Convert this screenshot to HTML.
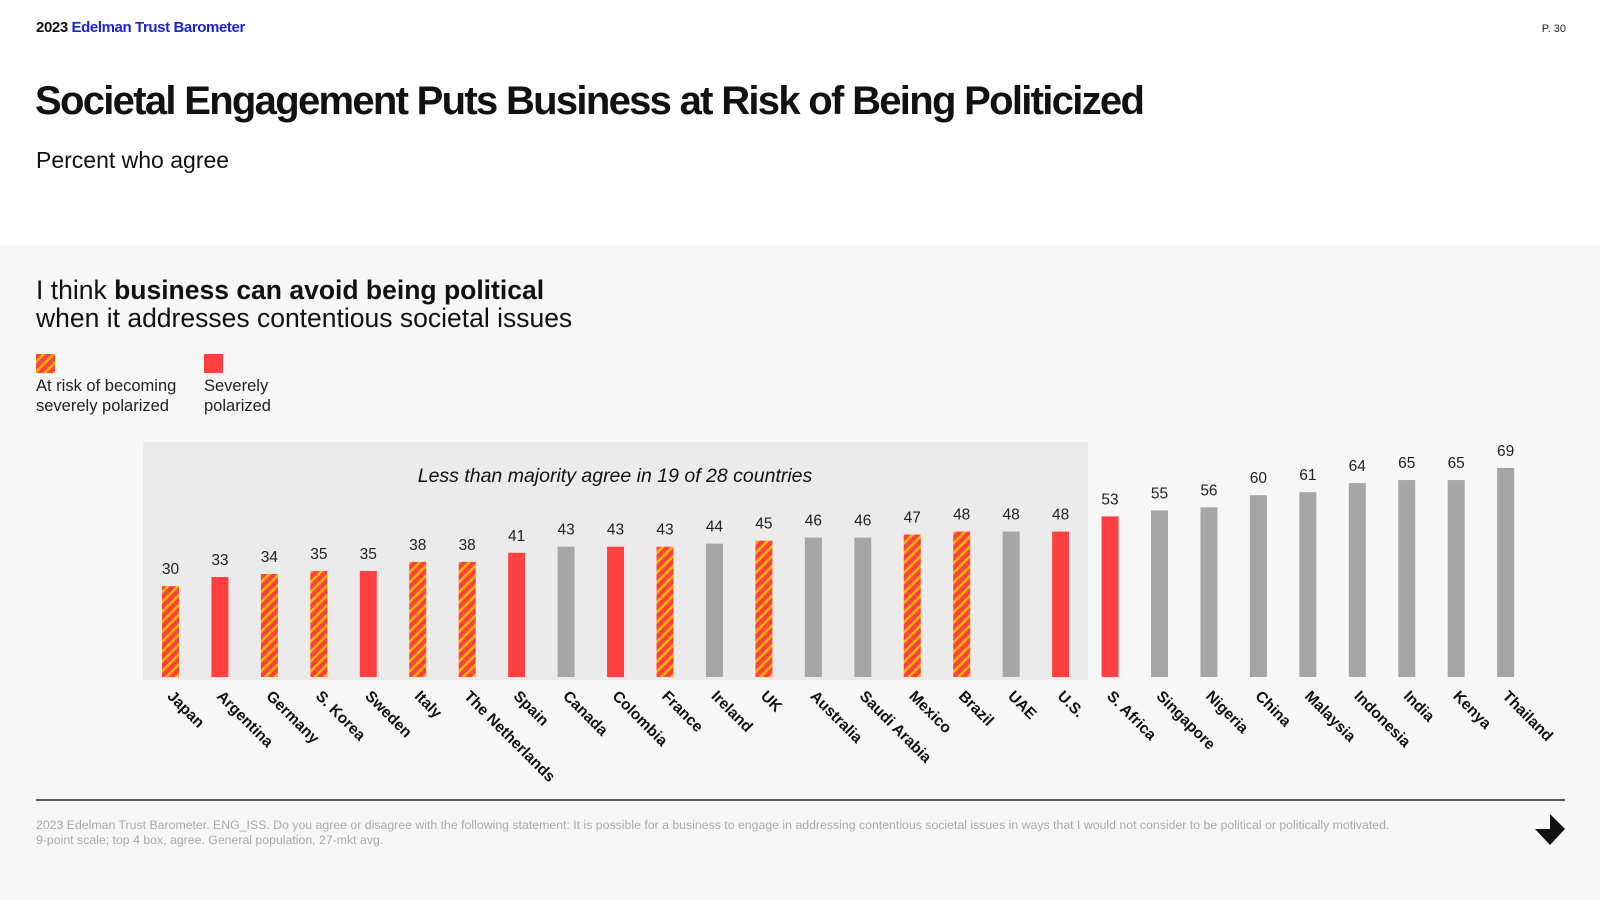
<!DOCTYPE html>
<html><head><meta charset="utf-8"><style>
body{margin:0;width:1600px;height:900px;overflow:hidden;background:#fff;font-family:"Liberation Sans",Arial,sans-serif}
svg{display:block}
</style></head><body>
<svg id="chart" width="1600" height="900" viewBox="0 0 1600 900" xmlns="http://www.w3.org/2000/svg">
<defs>
<pattern id="hatch" width="7" height="7" patternUnits="userSpaceOnUse" patternTransform="rotate(-45)">
<rect width="7" height="7" fill="#ff4040"/><rect width="7" height="2.6" fill="#f7b500"/>
</pattern>
</defs>
<rect x="0" y="0" width="1600" height="245" fill="#ffffff"/>
<rect x="0" y="245" width="1600" height="655" fill="#f7f7f7"/>
<text x="36" y="32" font-size="15" font-weight="bold" letter-spacing="-0.4"><tspan fill="#111">2023 </tspan><tspan fill="#1a24d6">Edelman Trust Barometer</tspan></text>
<text x="1566" y="32" font-size="11" fill="#222" text-anchor="end">P. 30</text>
<text x="35" y="114" font-size="40" font-weight="bold" fill="#111" letter-spacing="-1.7">Societal Engagement Puts Business at Risk of Being Politicized</text>
<text x="36" y="168" font-size="23" fill="#111">Percent who agree</text>
<text x="36" y="299" font-size="26.5" fill="#111">I think <tspan font-weight="bold">business can avoid being political</tspan></text>
<text x="36" y="327" font-size="26.5" fill="#111">when it addresses contentious societal issues</text>
<rect x="36" y="354" width="19" height="19" fill="url(#hatch)"/>
<text x="36" y="391" font-size="16.5" fill="#222"><tspan x="36">At risk of becoming</tspan><tspan x="36" dy="20">severely polarized</tspan></text>
<rect x="204" y="354" width="19" height="19" fill="#ff4040"/>
<text x="204" y="391" font-size="16.5" fill="#222"><tspan x="204">Severely</tspan><tspan x="204" dy="20">polarized</tspan></text>
<rect x="143" y="442" width="945" height="238" fill="#ebebeb"/>
<text x="615" y="482" font-size="19.5" font-style="italic" fill="#111" text-anchor="middle">Less than majority agree in 19 of 28 countries</text>
<g id="bars"></g>
<line x1="36" y1="800" x2="1565" y2="800" stroke="#222" stroke-width="1.5"/>
<text x="36" y="829" font-size="12.3" fill="#aaa"><tspan x="36">2023 Edelman Trust Barometer. ENG_ISS. Do you agree or disagree with the following statement: It is possible for a business to engage in addressing contentious societal issues in ways that I would not consider to be political or politically motivated.</tspan><tspan x="36" dy="15">9-point scale; top 4 box, agree. General population, 27-mkt avg.</tspan></text>
<polygon points="1550,814 1565,829 1550,845 1535,829 1550,829" fill="#111"/>
</svg>
<script>
const categories=["Japan","Argentina","Germany","S. Korea","Sweden","Italy","The Netherlands","Spain","Canada","Colombia","France","Ireland","UK","Australia","Saudi Arabia","Mexico","Brazil","UAE","U.S.","S. Africa","Singapore","Nigeria","China","Malaysia","Indonesia","India","Kenya","Thailand"];
const values=[30,33,34,35,35,38,38,41,43,43,43,44,45,46,46,47,48,48,48,53,55,56,60,61,64,65,65,69];
const status=["risk","severe","risk","risk","severe","risk","risk","severe","none","severe","risk","none","risk","none","none","risk","risk","none","severe","severe","none","none","none","none","none","none","none","none"];
const g=document.getElementById('bars');
const ns='http://www.w3.org/2000/svg';
const x0=170.5,step=49.45,base=677,ppu=3.03,bw=17;
const xs=i=>x0+i*step, ys=v=>base-v*ppu;
const fills={risk:'url(#hatch)',severe:'#ff4040',none:'#a6a6a6'};
categories.forEach((c,i)=>{
  const r=document.createElementNS(ns,'rect');
  r.setAttribute('x',xs(i)-bw/2);r.setAttribute('y',ys(values[i]));
  r.setAttribute('width',bw);r.setAttribute('height',base-ys(values[i]));
  r.setAttribute('fill',fills[status[i]]);
  
  
  g.appendChild(r);
  const t=document.createElementNS(ns,'text');
  t.setAttribute('x',xs(i));t.setAttribute('y',ys(values[i])-12);
  t.setAttribute('text-anchor','middle');t.setAttribute('font-size','15.5');t.setAttribute('fill','#222');
  t.textContent=values[i];
  
  
  g.appendChild(t);
  const l=document.createElementNS(ns,'text');
  l.setAttribute('transform','translate('+(xs(i)-4)+',697) rotate(45)');
  l.setAttribute('font-size','15.5');l.setAttribute('font-weight','bold');l.setAttribute('fill','#111');
  l.textContent=c;
  
  
  g.appendChild(l);
});
</script>
</body></html>
